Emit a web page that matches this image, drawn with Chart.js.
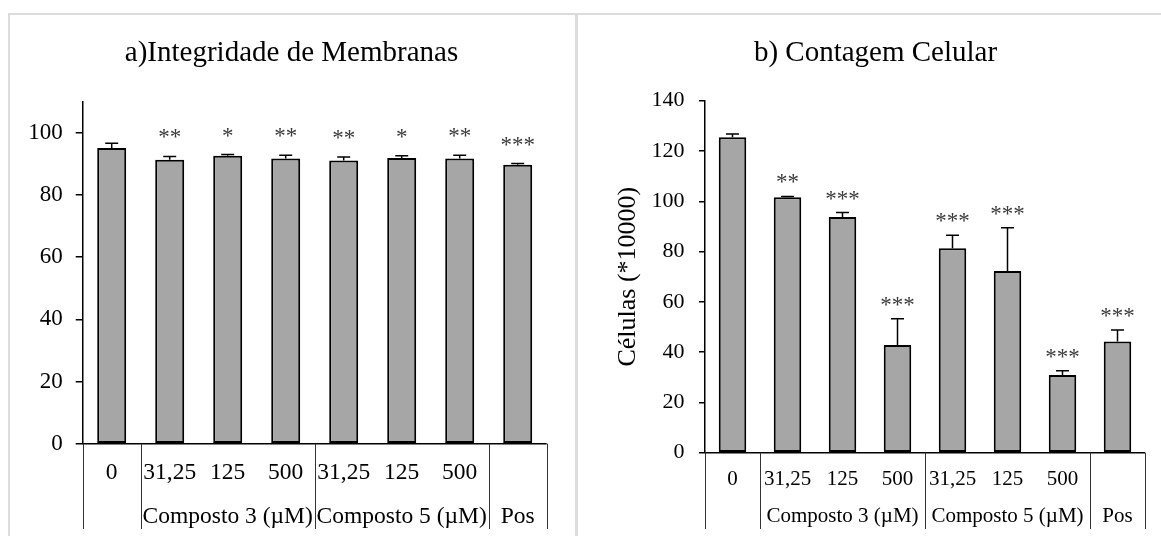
<!DOCTYPE html>
<html>
<head>
<meta charset="utf-8">
<script src="https://cdn.jsdelivr.net/npm/chart.js@4/dist/chart.umd.min.js"></script>
<style>
  html, body { margin: 0; padding: 0; background: #fff; }
  body { width: 1161px; height: 536px; position: relative; overflow: hidden; }
  .frame { position: absolute; background: #dcdcdc; }
  canvas { position: absolute; top: 0; }
</style>
</head>
<body>
<div class="frame" style="left:8px;top:13px;width:1153px;height:2px"></div>
<div class="frame" style="left:8px;top:13px;width:2px;height:523px"></div>
<div class="frame" style="left:575px;top:13px;width:3px;height:523px"></div>
<canvas id="chartA" width="576" height="536" style="left:0"></canvas>
<canvas id="chartB" width="583" height="536" style="left:578px"></canvas>
<script>
// shared categories (first row) and groups (second row)
const doses = ['0', '31,25', '125', '500', '31,25', '125', '500', ''];
const groups = [
  { label: '', from: 0, to: 0 },
  { label: 'Composto 3 (\u00b5M)', from: 1, to: 3 },
  { label: 'Composto 5 (\u00b5M)', from: 4, to: 6 },
  { label: 'Pos', from: 7, to: 7 }
];

// a) Integridade de Membranas
const membraneValues = [95.1, 91.3, 92.6, 91.7, 91.1, 91.9, 91.7, 89.7];
const membraneErrors = [1.5, 1.1, 0.4, 1.1, 1.1, 0.7, 1.1, 0.4];
const membraneStars = ['', '**', '*', '**', '**', '*', '**', '***'];

// b) Contagem Celular
const countValues = [125.5, 101.6, 93.7, 42.8, 81.3, 72.3, 30.9, 44.2];
const countErrors = [1.3, 0.3, 1.8, 10.5, 5.2, 17.2, 1.7, 4.6];
const countStars = ['', '**', '***', '***', '***', '***', '***', '***'];

Chart.defaults.font.family = '"Liberation Serif", "Times New Roman", serif';
Chart.defaults.color = '#000';

// panel title, centred on the panel rather than the chart box
const panelTitlePlugin = {
  id: 'panelTitle',
  afterDraw(chart, args, opts) {
    const { ctx } = chart;
    ctx.save();
    ctx.fillStyle = '#000';
    ctx.font = '29px "Liberation Serif"';
    ctx.textAlign = 'center';
    ctx.textBaseline = 'middle';
    ctx.fillText(opts.text, opts.x, opts.y);
    ctx.restore();
  }
};

// error bars (upper only) + significance marks
const errorBarPlugin = {
  id: 'errorBars',
  afterDatasetsDraw(chart, args, opts) {
    const { ctx } = chart;
    const y = chart.scales.y;
    const meta = chart.getDatasetMeta(0);
    const values = chart.data.datasets[0].data;
    ctx.save();
    ctx.strokeStyle = '#000';
    ctx.lineWidth = 1.5;
    meta.data.forEach((bar, i) => {
      const top = y.getPixelForValue(values[i] + opts.errors[i]);
      const base = y.getPixelForValue(values[i]);
      ctx.beginPath();
      ctx.moveTo(bar.x, base);
      ctx.lineTo(bar.x, top);
      ctx.moveTo(bar.x - 6.5, top);
      ctx.lineTo(bar.x + 6.5, top);
      ctx.stroke();
      if (opts.stars[i]) {
        ctx.fillStyle = '#3a3a3a';
        ctx.font = '23px "Liberation Serif"';
        ctx.textAlign = 'center';
        ctx.textBaseline = 'alphabetic';
        ctx.fillText(opts.stars[i], bar.x, top - opts.gap);
      }
    });
    ctx.restore();
  }
};

// two-level category axis drawn like Excel's
const groupAxisPlugin = {
  id: 'groupAxis',
  afterDraw(chart, args, opts) {
    const { ctx, chartArea } = chart;
    const x = chart.scales.x;
    const y0 = chart.scales.y.getPixelForValue(0);
    const half = (x.getPixelForValue(1) - x.getPixelForValue(0)) / 2;
    ctx.save();
    ctx.strokeStyle = '#000';
    ctx.lineWidth = 1.5;
    ctx.beginPath();
    ctx.moveTo(chartArea.left, y0);
    ctx.lineTo(chartArea.right, y0);
    ctx.stroke();

    ctx.strokeStyle = '#333';
    ctx.lineWidth = 1;
    const edges = groups.map(g => x.getPixelForValue(g.from) - half);
    edges.push(x.getPixelForValue(groups[groups.length - 1].to) + half);
    edges.forEach(px => {
      ctx.beginPath();
      ctx.moveTo(Math.round(px) + 0.5, y0);
      ctx.lineTo(Math.round(px) + 0.5, opts.lineBottom);
      ctx.stroke();
    });

    ctx.fillStyle = '#000';
    ctx.font = opts.fontSize + 'px "Liberation Serif"';
    ctx.textAlign = 'center';
    ctx.textBaseline = 'middle';
    doses.forEach((d, i) => {
      if (d) ctx.fillText(d, x.getPixelForValue(i), opts.row1);
    });
    groups.forEach(g => {
      if (!g.label) return;
      const cx = (x.getPixelForValue(g.from) + x.getPixelForValue(g.to)) / 2;
      ctx.fillText(g.label, cx, opts.row2);
    });
    ctx.restore();
  }
};

function makeChart(id, cfg) {
  return new Chart(document.getElementById(id), {
    type: 'bar',
    data: {
      labels: doses,
      datasets: [{
        data: cfg.values,
        backgroundColor: '#a6a6a6',
        borderColor: '#000',
        borderWidth: 2,
        borderSkipped: false,
        categoryPercentage: 1,
        barPercentage: 0.5
      }]
    },
    options: {
      responsive: false,
      animation: false,
      layout: { padding: { left: 0, right: cfg.padRight, top: cfg.top, bottom: 0 } },
      plugins: {
        legend: { display: false },
        tooltip: { enabled: false },
        title: { display: false },
        panelTitle: { text: cfg.title, x: cfg.titleX, y: 53 },
        errorBars: { errors: cfg.errors, stars: cfg.stars, gap: cfg.starGap },
        groupAxis: { row1: cfg.row1, row2: cfg.row2, lineBottom: 529, fontSize: cfg.catFont }
      },
      scales: {
        x: {
          offset: true,
          grid: { display: false },
          border: { display: false },
          ticks: { display: false },
          afterFit(scale) { scale.height = cfg.xHeight; }
        },
        y: {
          min: 0,
          max: cfg.max,
          ticks: {
            stepSize: 20,
            padding: cfg.tickPad,
            color: '#000',
            font: { size: cfg.tickFont }
          },
          grid: {
            drawOnChartArea: false,
            drawTicks: true,
            tickLength: cfg.tickLen,
            color: '#000',
            lineWidth: 1.5
          },
          border: { display: true, color: '#000', width: 1.5 },
          title: cfg.yTitle ? {
            display: true,
            text: cfg.yTitle,
            color: '#000',
            font: { size: 26 },
            padding: { top: 34.4, bottom: 0 }
          } : { display: false },
          afterBuildTicks(scale) {
            scale.ticks = scale.ticks.filter(t => t.value % 20 === 0);
          },
          afterFit(scale) { scale.width = cfg.yWidth; }
        }
      }
    },
    plugins: [panelTitlePlugin, errorBarPlugin, groupAxisPlugin]
  });
}

makeChart('chartA', {
  title: 'a)Integridade de Membranas',
  titleX: 291.5,
  values: membraneValues,
  errors: membraneErrors,
  stars: membraneStars,
  starGap: 12,
  max: 110,
  top: 101.7,
  padRight: 29.3,
  yWidth: 82.7,
  xHeight: 92.3,
  tickFont: 23,
  tickLen: 7,
  tickPad: 13,
  catFont: 23.5,
  row1: 472.7,
  row2: 516.7
});

makeChart('chartB', {
  title: 'b) Contagem Celular',
  titleX: 297.5,
  yTitle: 'C\u00e9lulas (*10000)',
  values: countValues,
  errors: countErrors,
  stars: countStars,
  starGap: 7,
  max: 140,
  top: 100.7,
  padRight: 16,
  yWidth: 127,
  xHeight: 83.3,
  tickFont: 22,
  tickLen: 6,
  tickPad: 14.5,
  catFont: 21,
  row1: 479,
  row2: 516.7
});
</script>
</body>
</html>
